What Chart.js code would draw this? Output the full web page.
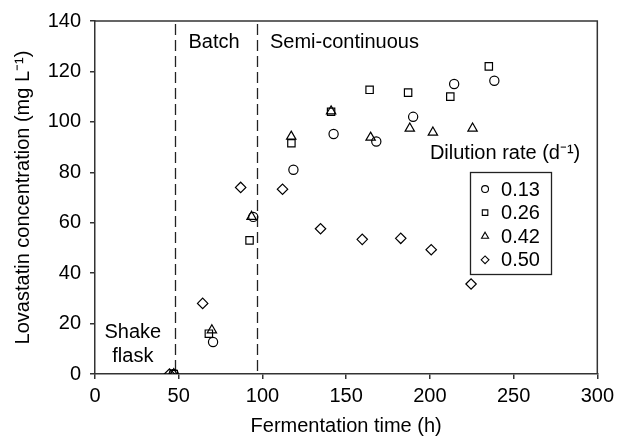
<!DOCTYPE html>
<html>
<head>
<meta charset="utf-8">
<script src="https://cdn.jsdelivr.net/npm/chart.js@4/dist/chart.umd.min.js"></script>
<style>
  html, body { margin: 0; padding: 0; background: #fff; }
  #wrap { width: 619px; height: 439px; }
</style>
</head>
<body>
<div id="wrap"><canvas id="grafico" width="619" height="439"></canvas></div>
<script>
// dilution rates (d-1) = series
var diluicoes = ['0.13', '0.26', '0.42', '0.50'];
var estilos = ['circle', 'rect', 'triangle', 'rectRot'];
var raios = [4.6, 5.2, 5.4, 5.2];

// fermentation time (h) and lovastatin (mg/L), one pair of arrays per series
var tempo013 = [47, 70.5, 94.5, 118.5, 142.5, 168, 190, 214.5, 238.5];
var lova013  = [0, 12.7, 62.3, 81, 95.2, 92.2, 102, 115, 116.3];

var tempo026 = [47, 68, 92.3, 117.3, 141, 164, 187, 212.2, 235.2];
var lova026  = [0, 16, 53, 91.5, 104, 112.7, 111.6, 110, 122];

var tempo042 = [47, 69.8, 93.5, 117.2, 141, 164.6, 188, 201.8, 225.5];
var lova042  = [0, 17.4, 62.4, 94.2, 104.2, 93.8, 97.4, 95.8, 97.4];

var tempo050 = [44.5, 64.3, 87, 112, 134.7, 159.6, 182.6, 200.8, 224.6];
var lova050  = [0, 28, 74, 73.3, 57.6, 53.4, 53.8, 49.3, 35.7];

var tempos = [tempo013, tempo026, tempo042, tempo050];
var valores = [lova013, lova026, lova042, lova050];

// phase boundaries (h) and axis ticks
var limitesFase = [48, 96.5];
var ticksX = [0, 50, 100, 150, 200, 250, 300];
var ticksY = [0, 20, 40, 60, 80, 100, 120, 140];

var fonte = '"Liberation Sans", Arial, Helvetica, sans-serif';
var corEixo = '#333';

function montaPontos(xs, ys){
    var pts = [];
    for (var i = 0; i < xs.length; i++){
        pts.push({x: xs[i], y: ys[i]});
    }
    return pts;
}

var datasets = [];
for (var s = 0; s < diluicoes.length; s++){
    datasets.push({
        label: diluicoes[s],
        data: montaPontos(tempos[s], valores[s]),
        pointStyle: estilos[s],
        pointRadius: raios[s],
        pointHoverRadius: raios[s],
        borderColor: '#000',
        backgroundColor: 'rgba(0,0,0,0)',
        pointBorderWidth: 1.2,
        showLine: false
    });
}

// vertical dashed lines, annotation text, frame and legend box
var extras = {
    id: 'extras',
    beforeDatasetsDraw: function(chart){
        var ctx = chart.ctx;
        var xs = chart.scales.x, ys = chart.scales.y;
        var area = chart.chartArea;
        ctx.save();
        ctx.strokeStyle = '#222';
        ctx.lineWidth = 1.3;
        ctx.setLineDash([11, 5]);
        limitesFase.forEach(function(t){
            var px = Math.round(xs.getPixelForValue(t)) + 0.5;
            ctx.beginPath();
            ctx.moveTo(px, area.top + 3);
            ctx.lineTo(px, area.bottom);
            ctx.stroke();
        });
        ctx.setLineDash([]);

        ctx.fillStyle = '#000';
        ctx.font = '20px ' + fonte;
        ctx.textBaseline = 'middle';
        ctx.textAlign = 'left';
        ctx.fillText('Batch', xs.getPixelForValue(55.8), ys.getPixelForValue(131.5));
        ctx.fillText('Semi-continuous', xs.getPixelForValue(104.5), ys.getPixelForValue(131.5));
        ctx.textAlign = 'center';
        ctx.fillText('Shake', xs.getPixelForValue(22.6), ys.getPixelForValue(16.3));
        ctx.fillText('flask', xs.getPixelForValue(22.6), ys.getPixelForValue(6.8));
        ctx.textAlign = 'left';
        ctx.fillText('Dilution rate (d\u207B\u00B9)', xs.getPixelForValue(200), ys.getPixelForValue(87.6));
        ctx.restore();
    },
    afterDraw: function(chart){
        var ctx = chart.ctx;
        var xs = chart.scales.x, ys = chart.scales.y;
        var area = chart.chartArea;
        ctx.save();
        // top and right side of the frame
        ctx.strokeStyle = corEixo;
        ctx.lineWidth = 1.5;
        ctx.beginPath();
        ctx.moveTo(area.left, area.top);
        ctx.lineTo(area.right, area.top);
        ctx.lineTo(area.right, area.bottom);
        ctx.stroke();

        // legend box
        var bx = xs.getPixelForValue(224), by = ys.getPixelForValue(80.3);
        var bw = 81, bh = 102;
        ctx.fillStyle = '#fff';
        ctx.fillRect(bx, by, bw, bh);
        ctx.strokeStyle = '#222';
        ctx.lineWidth = 1.3;
        ctx.strokeRect(Math.round(bx) + 0.5, Math.round(by) + 0.5, bw, bh);
        ctx.font = '20px ' + fonte;
        ctx.textBaseline = 'middle';
        ctx.textAlign = 'left';
        for (var i = 0; i < diluicoes.length; i++){
            var cy = by + 17.5 + i * 23.6;
            ctx.fillStyle = '#fff';
            ctx.strokeStyle = '#000';
            ctx.lineWidth = 1.1;
            Chart.helpers.drawPoint(ctx, {pointStyle: estilos[i], radius: raios[i] * 0.75, rotation: 0, borderWidth: 1.1}, bx + 15, cy);
            ctx.fillStyle = '#000';
            ctx.fillText(diluicoes[i], bx + 31, cy + 1);
        }
        ctx.restore();
    }
};

var ctx = document.getElementById('grafico');
var grafico = new Chart(ctx, {
    type: 'scatter',
    data: { datasets: datasets },
    plugins: [extras],
    options: {
        responsive: false,
        animation: false,
        layout: { padding: { top: 21, right: 19, left: 0, bottom: 0 } },
        plugins: {
            legend: { display: false },
            tooltip: { enabled: false }
        },
        scales: {
            x: {
                type: 'linear',
                min: 0,
                max: 300,
                afterFit: function(scale){ scale.height = 65; },
                afterBuildTicks: function(scale){
                    scale.ticks = ticksX.map(function(v){ return {value: v}; });
                },
                grid: { drawOnChartArea: false, drawTicks: true, tickLength: 5, color: corEixo, lineWidth: 1.5 },
                border: { display: true, color: corEixo, width: 1.5 },
                ticks: { color: '#000', padding: 5, maxRotation: 0, font: { family: fonte, size: 20 } },
                title: {
                    display: true,
                    text: 'Fermentation time (h)',
                    color: '#000',
                    font: { family: fonte, size: 20 },
                    padding: { top: 0, bottom: 1 }
                }
            },
            y: {
                type: 'linear',
                min: 0,
                max: 140,
                afterFit: function(scale){ scale.width = 95; },
                afterBuildTicks: function(scale){
                    scale.ticks = ticksY.map(function(v){ return {value: v}; });
                },
                grid: { drawOnChartArea: false, drawTicks: true, tickLength: 5, color: corEixo, lineWidth: 1.5 },
                border: { display: true, color: corEixo, width: 1.5 },
                ticks: { color: '#000', padding: 9, font: { family: fonte, size: 20 } },
                title: {
                    display: true,
                    text: 'Lovastatin concentration (mg L\u207B\u00B9)',
                    color: '#000',
                    font: { family: fonte, size: 20 },
                    padding: { top: 11, bottom: 0 }
                }
            }
        }
    }
});
</script>
</body>
</html>
